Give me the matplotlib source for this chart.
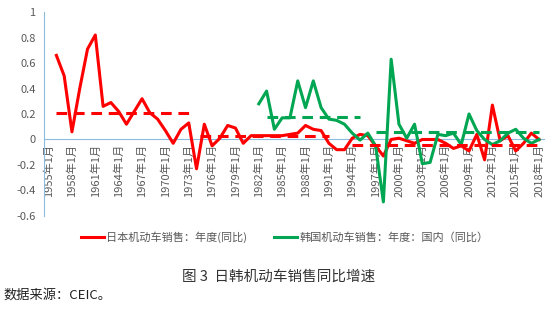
import numpy as np
import matplotlib
matplotlib.use("Agg")
import matplotlib.pyplot as plt

plt.rcParams['font.family'] = ['Noto Sans CJK SC', 'DejaVu Sans']

# yearly yoy growth
jp_years = list(range(1956, 2019))
jp_growth = [0.66, 0.50, 0.06, 0.40, 0.71, 0.82, 0.26, 0.29, 0.22, 0.12,
             0.22, 0.32, 0.21, 0.16, 0.07, -0.03, 0.08, 0.13, -0.23, 0.12,
             -0.05, 0.01, 0.11, 0.09, -0.03, 0.03, 0.03, 0.03, 0.03, 0.03,
             0.04, 0.05, 0.11, 0.08, 0.07, -0.03, -0.08, -0.08, 0.01, 0.04,
             0.03, -0.05, -0.13, 0.00, 0.01, -0.01, -0.03, 0.00, 0.00, 0.00,
             -0.03, -0.07, -0.05, -0.09, 0.04, -0.16, 0.27, -0.01, 0.03, -0.09,
             -0.03, 0.05, 0.00]

kr_years = list(range(1982, 2019))
kr_growth = [0.28, 0.38, 0.08, 0.17, 0.17, 0.46, 0.25, 0.46, 0.25, 0.16,
             0.15, 0.12, 0.05, -0.005, 0.05, -0.05, -0.49, 0.63, 0.12, 0.01,
             0.12, -0.19, -0.18, 0.04, 0.03, 0.05, -0.04, 0.20, 0.07, 0.00,
             -0.04, -0.01, 0.05, 0.08, 0.01, -0.03, 0.00]

# period averages (start year, end year, level)
jp_avg = [(1956, 1973, 0.21), (1974.5, 1991, 0.03), (1994, 2018, -0.04)]
kr_avg = [(1983, 1995, 0.18), (1997, 2018, 0.06)]

tick_years = list(range(1955, 2019, 3))
tick_labels = [f"{y}年1月" for y in tick_years]
y_ticks = [-0.6, -0.4, -0.2, 0, 0.2, 0.4, 0.6, 0.8, 1]
y_labels = ["-0.6", "-0.4", "-0.2", "0", "0.2", "0.4", "0.6", "0.8", "1"]

red = '#FF0000'
green = '#00A651'
axis_blue = '#8DBBDC'
grey = '#595959'

fig = plt.figure(figsize=(5.56, 3.18), dpi=100)
ax = fig.add_axes([0.079, 0.321, 0.899, 0.641])

# x axis sits on the zero line (set before ticks, it resets them)
ax.spines['top'].set_visible(False)
ax.spines['right'].set_visible(False)
ax.spines['bottom'].set_position(('data', 0))
ax.spines['bottom'].set_color(axis_blue)
ax.spines['left'].set_color(axis_blue)
ax.spines['bottom'].set_zorder(0)

ax.plot(jp_years, jp_growth, color=red, lw=2.2, label='日本机动车销售：年度(同比)')
ax.plot(kr_years, kr_growth, color=green, lw=2.2, label='韩国机动车销售：年度：国内（同比）')

for x0, x1, v in jp_avg:
    ax.plot([x0, x1], [v, v], color=red, lw=2.2, linestyle=(0, (3.5, 2.2)))
for x0, x1, v in kr_avg:
    ax.plot([x0, x1], [v, v], color=green, lw=2.2, linestyle=(0, (3.5, 2.2)))

ax.set_xlim(1954.4, 2018.6)
ax.set_ylim(-0.6, 1)
ax.set_xticks(tick_years)
ax.set_xticklabels(tick_labels, rotation=90, fontsize=8, color=grey, va='top', ha='center')
ax.set_yticks(y_ticks)
ax.set_yticklabels(y_labels, fontsize=8, color=grey)
ax.tick_params(axis='both', length=0)
ax.tick_params(axis='y', pad=6)
ax.tick_params(axis='x', pad=3)

fig.legend(loc='center', bbox_to_anchor=(0.512, 0.255), ncol=2, frameon=False,
           fontsize=8, handlelength=2.1, handletextpad=0.2, columnspacing=2.4,
           labelcolor=grey)

fig.text(0.502, 0.129, '图 3  日韩机动车销售同比增速', ha='center', va='center',
         fontsize=10.5, color='#333333')
fig.text(0.006, 0.072, '数据来源：CEIC。', ha='left', va='center',
         fontsize=9.5, color='#222222')

fig.savefig('out.png', dpi=100)
